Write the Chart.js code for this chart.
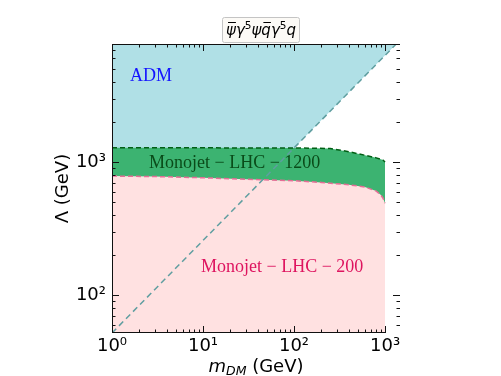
<!DOCTYPE html>
<html>
<head>
<meta charset="utf-8">
<script src="https://cdn.jsdelivr.net/npm/chart.js@4/dist/chart.umd.min.js"></script>
<style>
    html, body { margin: 0; padding: 0; background: #fff; }
    #wrap { width: 501px; height: 376px; }
</style>
</head>
<body>
<div id="wrap"><canvas id="chart" width="501" height="376"></canvas></div>
<script>
// Values (m_DM in GeV, Lambda in GeV)
const admMass = [1, 1460];
const admLambda = [52, 8220];

const mass1200 = [1, 10, 100, 250, 400, 600, 800, 950, 1000];
const lambda1200 = [1280, 1278, 1275, 1265, 1195, 1125, 1075, 1035, 1000];

const mass200 = [1, 3, 10, 30, 100, 200, 400, 600, 800, 900, 950, 1000];
const lambda200 = [785, 778, 762, 742, 724, 703, 675, 650, 605, 565, 535, 490];

// tick labels by power of ten
const decadeLabels = ['10⁰', '10¹', '10²', '10³', '10⁴'];

const xRange = [1, 1460];
const yRange = [52, 7700];

function toPoints(xs, ys) {
    return xs.map((x, i) => ({ x: x, y: ys[i] }));
}

function isDecadeMultiple(v) {
    const e = Math.floor(Math.log10(v) + 1e-9);
    const m = v / Math.pow(10, e);
    return Math.abs(m - Math.round(m)) < 1e-6;
}

function decadeLabel(v) {
    const l = Math.log10(v);
    const e = Math.round(l);
    return Math.abs(l - e) < 1e-6 ? decadeLabels[e] : '';
}

// spines, inward ticks, axis titles and in-plot labels
const decorations = {
    id: 'decorations',
    afterDraw(chart) {
        const { ctx, chartArea: a, scales: { x, y } } = chart;
        const xEnd = Math.round(x.getPixelForValue(1000));
        ctx.save();

        ctx.strokeStyle = '#111';
        ctx.lineWidth = 1;
        ctx.beginPath();
        ctx.moveTo(a.left + 0.5, a.bottom);
        ctx.lineTo(a.left + 0.5, a.top + 0.5);
        ctx.lineTo(a.right, a.top + 0.5);
        ctx.moveTo(a.left, a.bottom - 0.5);
        ctx.lineTo(xEnd + 0.5, a.bottom - 0.5);
        ctx.stroke();

        ctx.beginPath();
        x.ticks.forEach(t => {
            const v = t.value;
            if (v < x.min || v > x.max || !isDecadeMultiple(v)) return;
            const len = decadeLabel(v) ? 7 : 3.5;
            const px = Math.round(x.getPixelForValue(v)) + 0.5;
            ctx.moveTo(px, a.bottom);
            ctx.lineTo(px, a.bottom - len);
            ctx.moveTo(px, a.top);
            ctx.lineTo(px, a.top + len);
        });
        y.ticks.forEach(t => {
            const v = t.value;
            if (v < y.min || v > y.max || !isDecadeMultiple(v)) return;
            const len = decadeLabel(v) ? 7 : 3.5;
            const py = Math.round(y.getPixelForValue(v)) + 0.5;
            ctx.moveTo(a.left, py);
            ctx.lineTo(a.left + len, py);
            ctx.moveTo(a.right, py);
            ctx.lineTo(a.right - len, py);
        });
        ctx.stroke();

        // axis titles
        ctx.fillStyle = '#000';
        ctx.textBaseline = 'alphabetic';
        ctx.save();
        ctx.translate(68, (a.top + a.bottom) / 2);
        ctx.rotate(-Math.PI / 2);
        ctx.font = '18px "DejaVu Sans"';
        ctx.textAlign = 'center';
        ctx.fillText('Λ (GeV)', 0, 0);
        ctx.restore();

        const parts = [
            { t: 'm', font: 'italic 18px "DejaVu Sans"', dy: 0 },
            { t: 'DM', font: 'italic 12.5px "DejaVu Sans"', dy: 3 },
            { t: ' (GeV)', font: '18px "DejaVu Sans"', dy: 0 }
        ];
        let total = 0;
        parts.forEach(p => { ctx.font = p.font; p.w = ctx.measureText(p.t).width; total += p.w; });
        let cx = (a.left + a.right) / 2 - total / 2;
        ctx.textAlign = 'left';
        parts.forEach(p => {
            ctx.font = p.font;
            ctx.fillText(p.t, cx, 372 + p.dy);
            cx += p.w;
        });

        // in-plot labels
        ctx.font = '18px "Liberation Serif"';
        ctx.textBaseline = 'middle';
        ctx.fillStyle = 'rgb(20, 20, 255)';
        ctx.fillText('ADM', 130, 76);
        ctx.fillStyle = 'rgb(10, 75, 25)';
        ctx.fillText('Monojet − LHC − 1200', 149, 163);
        ctx.fillStyle = 'rgb(222, 20, 95)';
        ctx.fillText('Monojet − LHC − 200', 201, 267);

        // title box
        const bx = 222, by = 17, bw = 77, bh = 25;
        ctx.fillStyle = '#fcfaf6';
        ctx.strokeStyle = '#c4c4c4';
        ctx.beginPath();
        ctx.roundRect(bx + 0.5, by + 0.5, bw, bh, 2);
        ctx.fill();
        ctx.stroke();

        const title = [
            { t: 'ψ', bar: true }, { t: 'γ' }, { t: '5', sup: true },
            { t: 'ψ' }, { t: 'q', bar: true }, { t: 'γ' }, { t: '5', sup: true }, { t: 'q' }
        ];
        const mainFont = 'italic 15px "DejaVu Sans"';
        const supFont = '10.5px "DejaVu Sans"';
        let tw = 0;
        title.forEach(p => { ctx.font = p.sup ? supFont : mainFont; p.w = ctx.measureText(p.t).width; tw += p.w; });
        let tx = bx + bw / 2 - tw / 2 + 0.5;
        const base = by + 18;
        ctx.fillStyle = '#000';
        ctx.textBaseline = 'alphabetic';
        title.forEach(p => {
            ctx.font = p.sup ? supFont : mainFont;
            ctx.fillText(p.t, tx, p.sup ? base - 6 : base);
            if (p.bar) {
                ctx.fillRect(tx + 2, base - 13, p.w - 2, 1);
            }
            tx += p.w;
        });

        ctx.restore();
    }
};

const ctx = document.getElementById('chart').getContext('2d');
const chart = new Chart(ctx, {
    type: 'scatter',
    data: {
        datasets: [
            {
                label: 'ADM',
                data: toPoints(admMass, admLambda),
                showLine: true,
                fill: 'end',
                backgroundColor: 'rgb(176, 224, 230)',
                borderWidth: 0,
                pointRadius: 0,
                clip: 0,
                order: 5
            },
            {
                label: 'Monojet - LHC - 1200',
                data: toPoints(mass1200, lambda1200),
                showLine: true,
                fill: 'start',
                backgroundColor: 'rgb(60, 179, 113)',
                borderColor: 'rgb(0, 95, 20)',
                borderWidth: 1.5,
                borderDash: [5, 3],
                pointRadius: 0,
                clip: 0,
                order: 4
            },
            {
                label: 'Monojet - LHC - 200',
                data: toPoints(mass200, lambda200),
                showLine: true,
                fill: 'start',
                backgroundColor: 'rgb(255, 225, 225)',
                borderColor: 'rgb(228, 110, 150)',
                borderWidth: 1.5,
                borderDash: [5, 3],
                pointRadius: 0,
                clip: 0,
                order: 3
            },
            {
                label: 'm = Lambda',
                data: toPoints(admMass, admLambda),
                showLine: true,
                fill: false,
                borderColor: 'rgb(95, 158, 160)',
                borderWidth: 1.5,
                borderDash: [6, 4],
                pointRadius: 0,
                clip: 0,
                order: 1
            }
        ]
    },
    options: {
        responsive: false,
        animation: false,
        events: [],
        layout: { padding: { left: 52, top: 44, right: 101, bottom: 0 } },
        plugins: {
            legend: { display: false },
            tooltip: { enabled: false },
            title: { display: false }
        },
        scales: {
            x: {
                type: 'logarithmic',
                min: xRange[0],
                max: xRange[1],
                grid: { display: false, drawTicks: false },
                border: { display: false },
                afterFit: s => { s.height = 43; },
                ticks: {
                    autoSkip: false,
                    maxRotation: 0,
                    padding: 3,
                    color: '#000',
                    font: { family: 'DejaVu Sans', size: 18 },
                    callback: v => decadeLabel(v)
                }
            },
            y: {
                type: 'logarithmic',
                min: yRange[0],
                max: yRange[1],
                grid: { display: false, drawTicks: false },
                border: { display: false },
                afterFit: s => { s.width = 60; },
                ticks: {
                    autoSkip: false,
                    padding: 6,
                    color: '#000',
                    font: { family: 'DejaVu Sans', size: 18 },
                    callback: v => decadeLabel(v)
                }
            }
        }
    },
    plugins: [decorations]
});
</script>
</body>
</html>
